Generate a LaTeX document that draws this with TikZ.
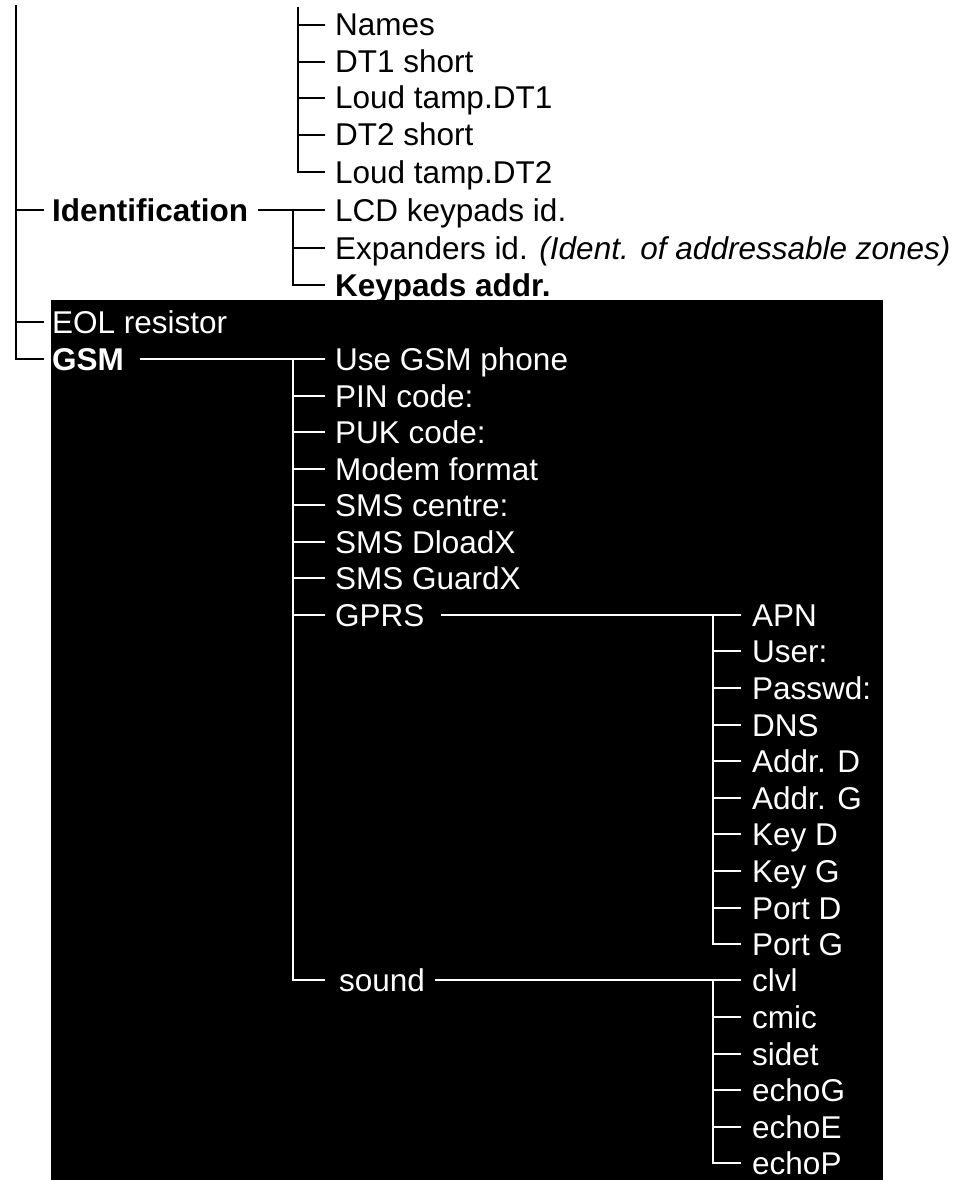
\documentclass[tikz,border=0pt]{standalone}
\usepackage{fontspec}
\setmainfont{Liberation Sans}
\begin{document}
\begin{tikzpicture}[x=1pt,y=-1pt,
  lbl/.style={anchor=west, inner sep=0pt, text height=22pt, text depth=0pt,
              font=\fontsize{31.5}{36}\selectfont},
  wt/.style={lbl, text=white},
  bl/.style={line width=2pt, black},
  wl/.style={line width=1.8pt, white}]
\useasboundingbox (0,0) rectangle (961,1180);
\fill[black] (51,300) rectangle (883,1180);

% ---- upper subtree
\node[lbl] (names) at (335,25)  {Names};
\node[lbl] (dt1)   at (335,62)  {DT1 short};
\node[lbl] (lt1)   at (335,98)  {Loud tamp.DT1};
\node[lbl] (dt2)   at (335,135) {DT2 short};
\node[lbl] (lt2)   at (335,172) {Loud tamp.DT2};
\coordinate (ut) at (298,7);
\draw[bl] (ut) |- ([xshift=-10pt]lt2.west);
\foreach \n in {names,dt1,lt1,dt2}
  \draw[bl] (ut |- \n.west) -- ([xshift=-10pt]\n.west);

% ---- main trunk
\coordinate (root) at (16,5);
\node[lbl, font=\fontsize{31.5}{36}\selectfont\bfseries] (ident) at (52,210) {Identification};
\node[wt] (eol) at (52,322) {EOL resistor};
\node[wt, font=\fontsize{31.5}{36}\selectfont\bfseries] (gsm) at (52,359) {GSM};
\draw[bl] (root) |- ([xshift=-8pt]gsm.west);
\draw[bl] (root |- ident.west) -- ([xshift=-8pt]ident.west);
\draw[bl] (root |- eol.west) -- ([xshift=-8pt]eol.west);

% ---- Identification subtree
\node[lbl] (lcd)  at (335,210) {LCD keypads id.};
\node[lbl] (expd) at (335,248) {Expanders id. \textit{(Ident. of addressable zones)}};
\node[lbl, font=\fontsize{31.5}{36}\selectfont\bfseries] (kad) at (335,285) {Keypads addr.};
\coordinate (it) at (293,210);
\draw[bl] ([xshift=10pt]ident.east) -- ([xshift=-10pt]lcd.west);
\draw[bl] (it) |- ([xshift=-10pt]kad.west);
\draw[bl] (it |- expd.west) -- ([xshift=-10pt]expd.west);

% ---- GSM subtree
\node[wt] (use)  at (335,359) {Use GSM phone};
\node[wt] (pin)  at (335,396) {PIN code:};
\node[wt] (puk)  at (335,432) {PUK code:};
\node[wt] (mod)  at (335,469) {Modem format};
\node[wt] (smsc) at (335,505) {SMS centre:};
\node[wt] (smsd) at (335,542) {SMS DloadX};
\node[wt] (smsg) at (335,578) {SMS GuardX};
\node[wt] (gprs) at (335,615) {GPRS};
\node[wt] (snd)  at (339,980) {sound};
\coordinate (gt) at (293,359);
\draw[wl] ([xshift=16pt]gsm.east) -- ([xshift=-10pt]use.west);
\draw[wl] (gt) |- ([xshift=-14pt]snd.west);
\foreach \n in {pin,puk,mod,smsc,smsd,smsg,gprs}
  \draw[wl] (gt |- \n.west) -- ([xshift=-10pt]\n.west);

% ---- GPRS subtree
\node[wt] (apn)  at (752,615) {APN};
\node[wt] (usr)  at (752,651) {User:};
\node[wt] (pwd)  at (752,688) {Passwd:};
\node[wt] (dns)  at (752,725) {DNS};
\node[wt] (ad)   at (752,761) {Addr. D};
\node[wt] (ag)   at (752,798) {Addr. G};
\node[wt] (kd)   at (752,834) {Key D};
\node[wt] (kg)   at (752,871) {Key G};
\node[wt] (pd)   at (752,908) {Port D};
\node[wt] (pg)   at (752,944) {Port G};
\coordinate (pt) at (713,615);
\draw[wl] ([xshift=16pt]gprs.east) -- ([xshift=-11pt]apn.west);
\draw[wl] (pt) |- ([xshift=-11pt]pg.west);
\foreach \n in {usr,pwd,dns,ad,ag,kd,kg,pd}
  \draw[wl] (pt |- \n.west) -- ([xshift=-11pt]\n.west);

% ---- sound subtree
\node[wt] (clvl)  at (752,980)  {clvl};
\node[wt] (cmic)  at (752,1017) {cmic};
\node[wt] (sidet) at (752,1054) {sidet};
\node[wt] (echog) at (752,1090) {echoG};
\node[wt] (echoe) at (752,1127) {echoE};
\node[wt] (echop) at (752,1163) {echoP};
\coordinate (st) at (713,980);
\draw[wl] ([xshift=10pt]snd.east) -- ([xshift=-11pt]clvl.west);
\draw[wl] (st) |- ([xshift=-11pt]echop.west);
\foreach \n in {cmic,sidet,echog,echoe}
  \draw[wl] (st |- \n.west) -- ([xshift=-11pt]\n.west);
\end{tikzpicture}
\end{document}
